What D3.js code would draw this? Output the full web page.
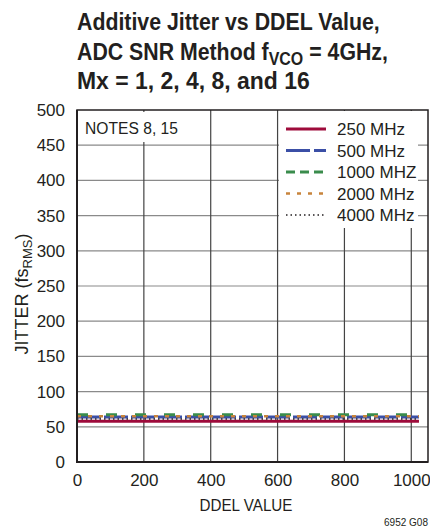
<!DOCTYPE html>
<html>
<head>
<meta charset="utf-8">
<script src="https://cdn.jsdelivr.net/npm/d3@7"></script>
<style>
  body { margin: 0; background: #fff; }
  svg { display: block; }
  text { font-family: "Liberation Sans", Arial, sans-serif; fill: #231f20; }
</style>
</head>
<body>
<div class="visHolder"></div>
<script>
const w = 430, h = 529;
const margin = {top: 110, right: 2, bottom: 67, left: 77};

// data
const ddel = [0, 128, 256, 384, 512, 640, 768, 896, 1023];
const series = [
  {name: "250 MHz",  values: [58, 58, 58, 58, 58, 58, 58, 58, 58]},
  {name: "500 MHz",  values: [64, 64, 64, 64, 64, 64, 64, 64, 64]},
  {name: "1000 MHZ", values: [67, 67, 67, 67, 67, 67, 67, 67, 67]},
  {name: "2000 MHz", values: [65, 65, 65, 65, 65, 65, 65, 65, 65]},
  {name: "4000 MHz", values: [61, 61, 61, 61, 61, 61, 61, 61, 61]}
];
const xTicks = [0, 200, 400, 600, 800, 1000];
const yTicks = [0, 50, 100, 150, 200, 250, 300, 350, 400, 450, 500];

const styles = [
  {color: "#9e0b3b", width: 3, dash: null, ldash: null},
  {color: "#3b4fa6", width: 3, dash: "24,3", ldash: "24,4"},
  {color: "#3a8c4c", width: 3, dash: "11,18", ldash: "9,5"},
  {color: "#c8843c", width: 2.5, dash: "4,7", ldash: "4,7"},
  {color: "#231f20", width: 1.5, dash: "1.5,3", ldash: "1.5,3"}
];

const svg = d3.select(".visHolder").append("svg")
  .attr("width", w).attr("height", h);

// squeeze a text horizontally to a width, keeping its left (or anchor) point
function squeeze(sel, target, x0) {
  const bw = sel.node().getBBox().width;
  const k = target / bw;
  sel.attr("transform", "translate(" + x0 + ",0) scale(" + k + ",1) translate(" + (-x0) + ",0)");
}

const x = d3.scaleLinear().domain([0, 1050]).range([margin.left, w - margin.right]);
const y = d3.scaleLinear().domain([0, 500]).range([h - margin.bottom, margin.top]);

// title
const tl1 = svg.append("text").attr("x", 77).attr("y", 30)
  .style("font-weight", "bold").style("font-size", "24px").text("Additive Jitter vs DDEL Value,");
squeeze(tl1, 303, 77);
const tl2 = svg.append("text").attr("x", 77).attr("y", 60)
  .style("font-weight", "bold").style("font-size", "24px");
tl2.append("tspan").text("ADC SNR Method f");
tl2.append("tspan").attr("dy", 5).style("font-size", "18px").text("VCO");
tl2.append("tspan").attr("dy", -5).text(" = 4GHz,");
squeeze(tl2, 311, 77);
const tl3 = svg.append("text").attr("x", 77).attr("y", 89)
  .style("font-weight", "bold").style("font-size", "24px").text("Mx = 1, 2, 4, 8, and 16");
squeeze(tl3, 233, 77);

// grid
svg.append("g")
  .selectAll("line").data(yTicks.slice(1, -1)).enter().append("line")
  .attr("x1", x(0)).attr("x2", x(1050))
  .attr("y1", d => y(d)).attr("y2", d => y(d))
  .attr("stroke", "#8a8a8a").attr("stroke-width", 1.2);
svg.append("g")
  .selectAll("line").data(xTicks.slice(1)).enter().append("line")
  .attr("x1", d => x(d)).attr("x2", d => x(d))
  .attr("y1", y(0)).attr("y2", y(500))
  .attr("stroke", "#444").attr("stroke-width", 1.2);

// notes label with white back
svg.append("rect").attr("x", 79).attr("y", 112).attr("width", 100).attr("height", 30).attr("fill", "#fff");
const notes = svg.append("text").attr("x", 85).attr("y", 134).style("font-size", "17px").text("NOTES 8, 15");
squeeze(notes, 93, 85);

// legend back
svg.append("rect").attr("x", 279).attr("y", 111).attr("width", 139).attr("height", 117).attr("fill", "#fff");

// lines
const line = d3.line().x((d, i) => x(ddel[i])).y(d => y(d));
series.forEach((s, i) => {
  svg.append("path")
    .datum(s.values)
    .attr("d", line)
    .attr("fill", "none")
    .attr("stroke", styles[i].color)
    .attr("stroke-width", styles[i].width)
    .attr("stroke-dasharray", styles[i].dash);
});

// frame
svg.append("rect")
  .attr("x", x(0)).attr("y", y(500))
  .attr("width", x(1050) - x(0)).attr("height", y(0) - y(500))
  .attr("fill", "none").attr("stroke", "#231f20").attr("stroke-width", 1.5);
svg.append("line").attr("x1", x(0)).attr("x2", x(0)).attr("y1", y(0) + 1).attr("y2", y(500))
  .attr("stroke", "#231f20").attr("stroke-width", 2);
svg.append("line").attr("x1", x(0) - 1).attr("x2", x(1050)).attr("y1", y(0)).attr("y2", y(0))
  .attr("stroke", "#231f20").attr("stroke-width", 2);

// axes labels
const yAxis = d3.axisLeft(y).tickValues(yTicks).tickSize(0).tickPadding(12).tickFormat(d3.format("d"));
svg.append("g").attr("transform", "translate(" + x(0) + ",0)").call(yAxis)
  .call(g => g.select(".domain").remove())
  .selectAll("text").style("font-size", "17px").attr("fill", "#231f20");
const xAxis = d3.axisBottom(x).tickValues(xTicks).tickSize(0).tickPadding(12).tickFormat(d3.format("d"));
svg.append("g").attr("transform", "translate(0," + y(0) + ")").call(xAxis)
  .call(g => g.select(".domain").remove())
  .selectAll("text").style("font-size", "17px").attr("fill", "#231f20");
svg.selectAll(".tick text").attr("font-family", null);

// axis titles
const xt = svg.append("text").attr("x", 246).attr("y", 511).attr("text-anchor", "middle")
  .style("font-size", "17px").text("DDEL VALUE");
squeeze(xt, 93, 246);
const yl = svg.append("text").attr("transform", "translate(28,294) rotate(-90)")
  .attr("text-anchor", "middle").style("font-size", "18px");
yl.append("tspan").text("JITTER (fs");
yl.append("tspan").attr("dy", 4).style("font-size", "13px").text("RMS");
yl.append("tspan").attr("dy", -4).text(")");

// legend
const lg = svg.append("g");
series.forEach((s, i) => {
  const ly = 129 + i * 21.5;
  lg.append("line").attr("x1", 286).attr("x2", 326).attr("y1", ly).attr("y2", ly)
    .attr("stroke", styles[i].color).attr("stroke-width", styles[i].width)
    .attr("stroke-dasharray", styles[i].ldash);
  lg.append("text").attr("x", 337).attr("y", ly + 6).style("font-size", "17px").text(s.name);
});

svg.append("text").attr("x", 428).attr("y", 526).attr("text-anchor", "end")
  .style("font-size", "10px").text("6952 G08");
</script>
</body>
</html>
